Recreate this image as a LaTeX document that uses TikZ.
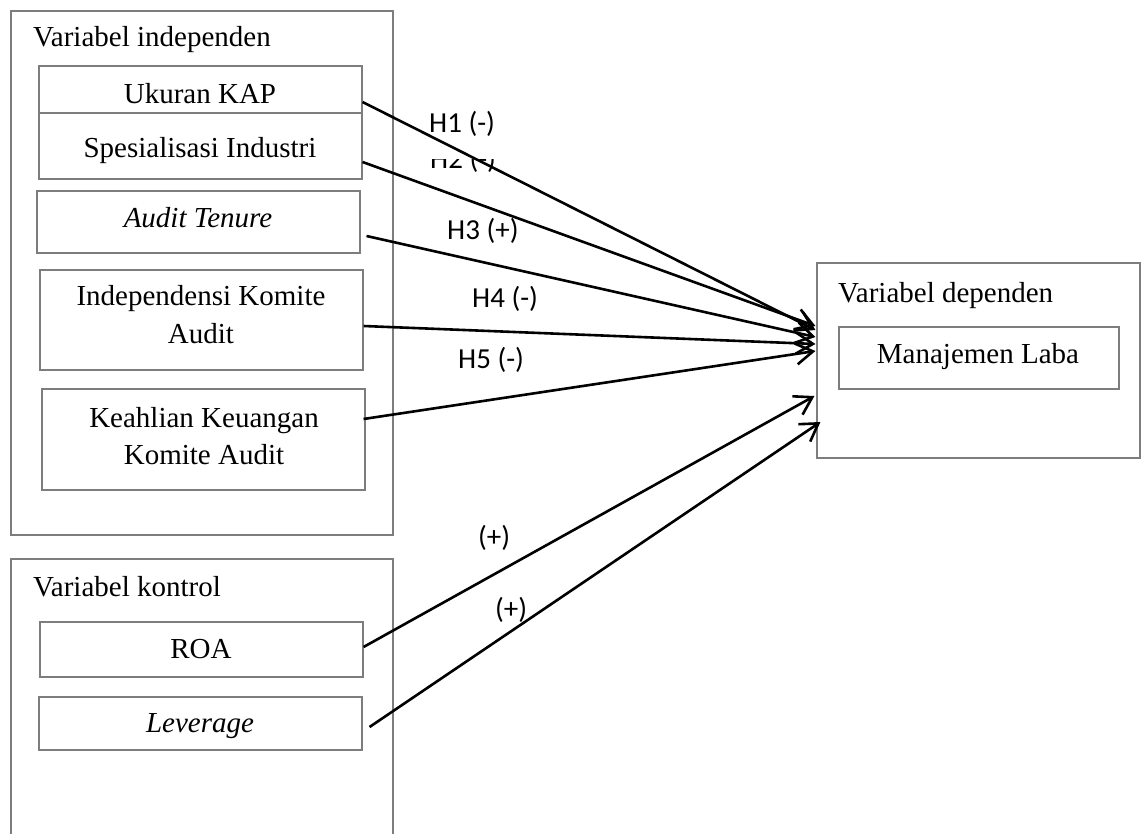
\documentclass[tikz,border=0pt]{standalone}
\usepackage{fontspec}
\setmainfont{Liberation Serif}
\newfontfamily\calib{Carlito}
\usetikzlibrary{arrows.meta,calc}
\definecolor{bordergray}{RGB}{125,125,125}
\begin{document}
\begin{tikzpicture}[x=1pt,y=-1pt,
  box/.style={draw=bordergray,line width=1.1pt,rectangle,inner sep=0pt,minimum width=323pt},
  txt/.style={inner sep=0pt,font=\fontsize{29}{37}\selectfont},
  hlab/.style={inner sep=0pt,anchor=base west,font=\calib\fontsize{29}{35}\selectfont},
  arr/.style={line width=2.6pt,-{Straight Barb[length=17pt,width=21pt,line width=2.6pt]}}]
\path[use as bounding box,clip] (0,0) rectangle (1146,834);
\fill[white] (0,0) rectangle (1146,834);
% group boxes
\node[box,minimum width=382pt,minimum height=524pt] (indepgrp) at (202,273) {};
\node[box,minimum width=382pt,minimum height=400pt] (kontrolgrp) at (202,759) {};
\node[box,minimum width=323pt,minimum height=195pt] (dep) at (978.5,360.5) {};
% variable boxes
\node[box,minimum height=47pt] (ukuran) at (200.5,89.5) {};
\node[box,minimum height=66pt] (spes) at (200.5,146) {};
\node[box,minimum height=62pt] (tenure) at (198.5,222) {};
\node[box,minimum height=100pt] (indep) at (201.5,320) {};
\node[box,minimum height=101pt] (ahli) at (203.5,439.5) {};
\node[box,minimum height=55pt] (roa) at (201.5,649.5) {};
\node[box,minimum height=53pt] (lev) at (200.5,723.5) {};
\node[box,minimum width=280pt,minimum height=62pt] (laba) at (979,358) {};
% texts
\node[txt,anchor=base west] (tIndepGrp) at (33,47) {Variabel independen};
\node[txt,anchor=base] (tUkuran) at (200,104) {Ukuran KAP};
\node[txt,anchor=base] (tSpes) at (200,158) {Spesialisasi Industri};
\node[txt,anchor=base] (tTenure) at (198,228) {\itshape Audit Tenure};
\node[txt,anchor=base] (tIndep1) at (201,306) {Independensi Komite};
\node[txt,anchor=base] (tIndep2) at (201,343) {Audit};
\node[txt,anchor=base] (tAhli1) at (204,427) {Keahlian Keuangan};
\node[txt,anchor=base] (tAhli2) at (204,464) {Komite Audit};
\node[txt,anchor=base west] (tKontrol) at (33,596) {Variabel kontrol};
\node[txt,anchor=base] (tRoa) at (201,658) {ROA};
\node[txt,anchor=base] (tLev) at (200,732) {\itshape Leverage};
\node[txt,anchor=base west] (tDep) at (838,303) {Variabel dependen};
\node[txt,anchor=base] (tLaba) at (978,363) {Manajemen Laba};
% hypothesis labels
\begin{scope}
\clip (400,160) rectangle (600,200);
\node[hlab] (h2) at (430,169) {H2 (-)};
\end{scope}
\node[hlab] (h1) at (429,133) {H1 (-)};
\node[hlab] (h3) at (447,240) {H3 (+)};
\node[hlab] (h4) at (472,308) {H4 (-)};
\node[hlab] (h5) at (458,368) {H5 (-)};
\node[hlab] (c1) at (478,546) {(+)};
\node[hlab] (c2) at (495,618) {(+)};
% arrows
\draw[arr] ($(ukuran.east)+(0,12.5)$) -- ($(dep.west)+(-1,-30.5)$);
\draw[arr] ($(spes.east)+(0,16)$) -- ($(dep.west)+(-1,-34.5)$);
\draw[arr] ($(tenure.east)+(6,14)$) -- ($(dep.west)+(-1,-23.5)$);
\draw[arr] ($(indep.east)+(0,6)$) -- ($(dep.west)+(-1,-16.5)$);
\draw[arr] ($(ahli.east)+(-2,-20.5)$) -- ($(dep.west)+(-1,-9.5)$);
\draw[arr] ($(roa.east)+(0,-2.5)$) -- ($(dep.west)+(-2,35.5)$);
\draw[arr] ($(lev.east)+(7,3.5)$) -- ($(dep.west)+(4,61.5)$);
\end{tikzpicture}
\end{document}
